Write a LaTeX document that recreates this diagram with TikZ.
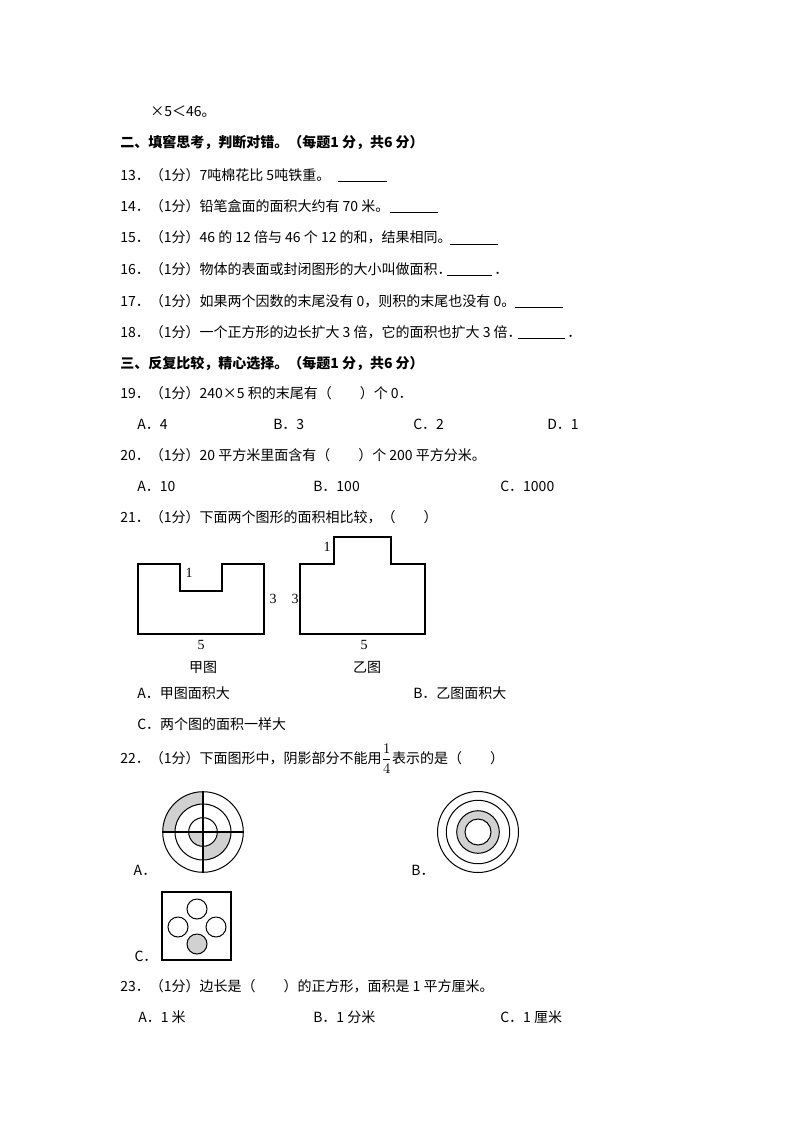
\documentclass[tikz,border=0pt]{standalone}
\usepackage{fontspec}
\setmainfont{Noto Sans CJK SC}
\newfontfamily\figfont{Liberation Serif}
\begin{document}
\begin{tikzpicture}[x=0.75pt,y=-0.75pt,
  txt/.style={anchor=base west,inner sep=0pt,font=\fontsize{10.5pt}{12pt}\selectfont},
  hdr/.style={txt,font=\fontsize{10.5pt}{12pt}\selectfont\bfseries},
  lab/.style={inner sep=0pt,font=\figfont\fontsize{10.5pt}{12pt}\selectfont},
  blank/.style={line width=0.6pt},
  fig/.style={line width=0.9pt},
  shade/.style={fill=black!18}]
\fill[white] (0,0) rectangle (794,1123);
\useasboundingbox (0,0) rectangle (794,1123);

% text lines
\node[txt] (l0) at (150,117) {×5＜46。};
\node[hdr] (h2) at (120,148) {二、填窖思考，判断对错。（每题1 分，共6 分）};
\node[txt] (q13) at (120,181) {13．（1分）7吨棉花比 5吨铁重。};
\node[txt] (q14) at (120,212) {14．（1分）铅笔盒面的面积大约有 70 米。};
\node[txt] (q15) at (120,243) {15．（1分）46 的 12 倍与 46 个 12 的和，结果相同。};
\node[txt] (q16) at (120,274) {16．（1分）物体的表面或封闭图形的大小叫做面积．};
\node[txt] (d16) at (494,274) {．};
\node[txt] (q17) at (120,306) {17．（1分）如果两个因数的末尾没有 0，则积的末尾也没有 0。};
\node[txt] (q18) at (120,337) {18．（1分）一个正方形的边长扩大 3 倍，它的面积也扩大 3 倍．};
\node[txt] (d18) at (567,337) {．};
\node[hdr] (h3) at (120,368) {三、反复比较，精心选择。（每题1 分，共6 分）};
\node[txt] (q19) at (120,398) {19．（1分）240×5 积的末尾有（　　）个 0．};
\node[txt] (o19a) at (137,429) {A．4};
\node[txt] (o19b) at (273,429) {B．3};
\node[txt] (o19c) at (413,429) {C．2};
\node[txt] (o19d) at (547,429) {D．1};
\node[txt] (q20) at (120,460) {20．（1分）20 平方米里面含有（　　）个 200 平方分米。};
\node[txt] (o20a) at (137,491) {A．10};
\node[txt] (o20b) at (313,491) {B．100};
\node[txt] (o20c) at (500,491) {C．1000};
\node[txt] (q21) at (120,522) {21．（1分）下面两个图形的面积相比较，（　　）};
\node[txt] (o21a) at (137,698) {A．甲图面积大};
\node[txt] (o21b) at (413,698) {B．乙图面积大};
\node[txt] (o21c) at (137,729) {C．两个图的面积一样大};
\node[txt] (q22) at (120,763) {22．（1分）下面图形中，阴影部分不能用${\displaystyle\frac{1}{4}}$表示的是（　　）};
\node[txt] (q23) at (120,991) {23．（1分）边长是（　　）的正方形，面积是 1 平方厘米。};
\node[txt] (o23a) at (138,1022) {A．1 米};
\node[txt] (o23b) at (313,1022) {B．1 分米};
\node[txt] (o23c) at (500,1022) {C．1 厘米};

% answer blanks
\draw[blank] (338,181) -- (387,181);
\draw[blank] (390,212) -- (438,212);
\draw[blank] (450,244) -- (498,244);
\draw[blank] (447,275) -- (492,275);
\draw[blank] (515,307) -- (563,307);
\draw[blank] (518,338) -- (565,338);

% figure 21
\draw[fig] (138,564) -- (180,564) -- (180,591) -- (222,591) -- (222,564) -- (264,564) -- (264,634) -- (138,634) -- cycle;
\node[lab] (ja1) at (189,573) {1};
\node[lab] (ja3) at (273,599) {3};
\node[lab] (ja5) at (201,645) {5};
\node[txt,anchor=center] (jia) at (203,667) {甲图};
\draw[fig] (300,564) -- (334,564) -- (334,537) -- (391,537) -- (391,564) -- (425,564) -- (425,634) -- (300,634) -- cycle;
\node[lab] (yi1) at (327,547) {1};
\node[lab] (yi3) at (295,599) {3};
\node[lab] (yi5) at (364,645) {5};
\node[txt,anchor=center] (yi) at (367,667) {乙图};

% figure 22 A
\coordinate (ca) at (203,832);
\begin{scope}[shift={(ca)},y=0.75pt]
  \fill[shade] (180:40.3) arc[start angle=180,end angle=90,radius=40.3] -- (90:28) arc[start angle=90,end angle=180,radius=28] -- cycle;
  \fill[shade] (0,0) -- (180:14.3) arc[start angle=180,end angle=270,radius=14.3] -- cycle;
  \fill[shade] (270:14.3) -- (270:28) arc[start angle=270,end angle=360,radius=28] -- (0:14.3) arc[start angle=360,end angle=270,radius=14.3] -- cycle;
  \draw[line width=0.75pt] (0,0) circle[radius=40.3] (0,0) circle[radius=28] (0,0) circle[radius=14.3];
  \draw[line width=1.1pt] (-40.3,0) -- (40.3,0) (0,-40.3) -- (0,40.3);
\end{scope}
\node[txt,anchor=center] (la) at (145,870) {A．};

% figure 22 B
\coordinate (cb) at (478,832);
\begin{scope}[shift={(cb)},y=0.75pt]
  \fill[shade,even odd rule] (0,0) circle[radius=21.3] (0,0) circle[radius=13];
  \draw[line width=0.75pt] (0,0) circle[radius=40.5] (0,0) circle[radius=31.7] (0,0) circle[radius=21.3] (0,0) circle[radius=13];
\end{scope}
\node[txt,anchor=center] (lb) at (423,870) {B．};

% figure 22 C
\draw[line width=0.8pt] (162,892) rectangle (231,960);
\draw[line width=0.75pt] (197,909) circle[radius=10] (178,927) circle[radius=10] (216,927) circle[radius=10];
\draw[line width=0.75pt,shade] (197,944) circle[radius=10];
\node[txt,anchor=center] (lc) at (146,956) {C．};
\end{tikzpicture}
\end{document}
